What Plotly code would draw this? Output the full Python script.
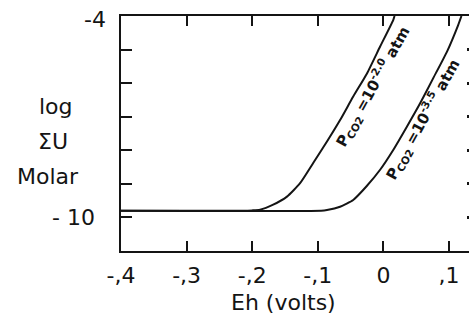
import plotly.graph_objects as go

# Data
eh_co2_20 = [-0.40, -0.215, -0.200, -0.188, -0.168, -0.147, -0.127, -0.107, -0.086, -0.066, -0.046, -0.025, -0.005, 0.015, 0.017]
logU_co2_20 = [-9.80, -9.80, -9.79, -9.77, -9.62, -9.38, -8.98, -8.38, -7.74, -7.10, -6.40, -5.71, -4.91, -4.12, -4.00]

eh_co2_35 = [-0.40, -0.095, -0.086, -0.066, -0.046, -0.026, -0.005, 0.015, 0.036, 0.056, 0.076, 0.097, 0.114, 0.119]
logU_co2_35 = [-9.80, -9.80, -9.78, -9.68, -9.48, -9.08, -8.58, -7.99, -7.29, -6.60, -5.85, -5.06, -4.27, -4.00]

x_tickvals = [-0.4, -0.3, -0.2, -0.1, 0.0, 0.1]
x_ticktext = ["-,4", "-,3", "-,2", "-,1", "0", ",1"]
y_tickvals = [-4, -5, -6, -7, -8, -9, -10, -11]

label_20 = "P<sub>CO2</sub> =10<sup>-2.0</sup> atm"
label_35 = "P<sub>CO2</sub> =10<sup>-3.5</sup> atm"
label_20_pos = (-0.017, -6.10)
label_35_pos = (0.059, -7.08)

FONT = "DejaVu Sans, sans-serif"
INK = "#141414"

fig = go.Figure()
fig.add_trace(go.Scatter(x=eh_co2_20, y=logU_co2_20, mode="lines",
                         line=dict(color=INK, width=2, shape="spline", smoothing=0.5),
                         showlegend=False, hoverinfo="skip"))
fig.add_trace(go.Scatter(x=eh_co2_35, y=logU_co2_35, mode="lines",
                         line=dict(color=INK, width=2, shape="spline", smoothing=0.5),
                         showlegend=False, hoverinfo="skip"))
# empty trace to activate right-side tick axis
fig.add_trace(go.Scatter(x=[], y=[], yaxis="y2", showlegend=False, hoverinfo="skip"))

fig.update_layout(
    width=469, height=322,
    margin=dict(l=121, r=0, t=16, b=71),
    paper_bgcolor="white", plot_bgcolor="white",
    font=dict(family=FONT, size=22, color=INK),
    xaxis=dict(range=[-0.4, 0.1305], showline=True, linecolor=INK, linewidth=2,
               mirror="ticks", ticks="inside", ticklen=10, tickwidth=2, tickcolor=INK,
               tickvals=x_tickvals, ticktext=x_ticktext, showgrid=False, zeroline=False,
               ticklabelstandoff=4, tickfont=dict(family=FONT, size=22, color=INK)),
    yaxis=dict(range=[-11, -4], showline=True, linecolor=INK, linewidth=2,
               ticks="inside", ticklen=11, tickwidth=2, tickcolor=INK,
               tickvals=y_tickvals, showticklabels=False,
               showgrid=False, zeroline=False),
    yaxis2=dict(range=[-11, -4], overlaying="y", side="right", showline=False,
                ticks="inside", ticklen=2, tickwidth=3, tickcolor=INK,
                tickvals=y_tickvals[1:-1], showticklabels=False,
                showgrid=False, zeroline=False),
)

annos = [
    dict(text="-4", x=-0.037, y=-4, xref="paper", yref="y", xanchor="right", yanchor="middle", yshift=-3),
    dict(text="- 10", x=-0.069, y=-10, xref="paper", yref="y", xanchor="right", yanchor="middle"),
    dict(text="log", x=-0.187, y=0.617, xref="paper", yref="paper", xanchor="center", yanchor="middle"),
    dict(text="ΣU", x=-0.196, y=0.464, xref="paper", yref="paper", xanchor="center", yanchor="middle"),
    dict(text="Molar", x=-0.210, y=0.315, xref="paper", yref="paper", xanchor="center", yanchor="middle"),
    dict(text="Eh (volts)", x=0.468, y=-0.221, xref="paper", yref="paper", xanchor="center", yanchor="middle"),
]
for a in annos:
    fig.add_annotation(showarrow=False, font=dict(family=FONT, size=22, color=INK), **a)

fig.add_annotation(text=label_20, x=label_20_pos[0], y=label_20_pos[1], xref="x", yref="y",
                   showarrow=False, textangle=-61,
                   font=dict(family=FONT, size=15, color=INK, weight="bold"))
fig.add_annotation(text=label_35, x=label_35_pos[0], y=label_35_pos[1], xref="x", yref="y",
                   showarrow=False, textangle=-61,
                   font=dict(family=FONT, size=15, color=INK, weight="bold"))

fig.write_html("out.html")
